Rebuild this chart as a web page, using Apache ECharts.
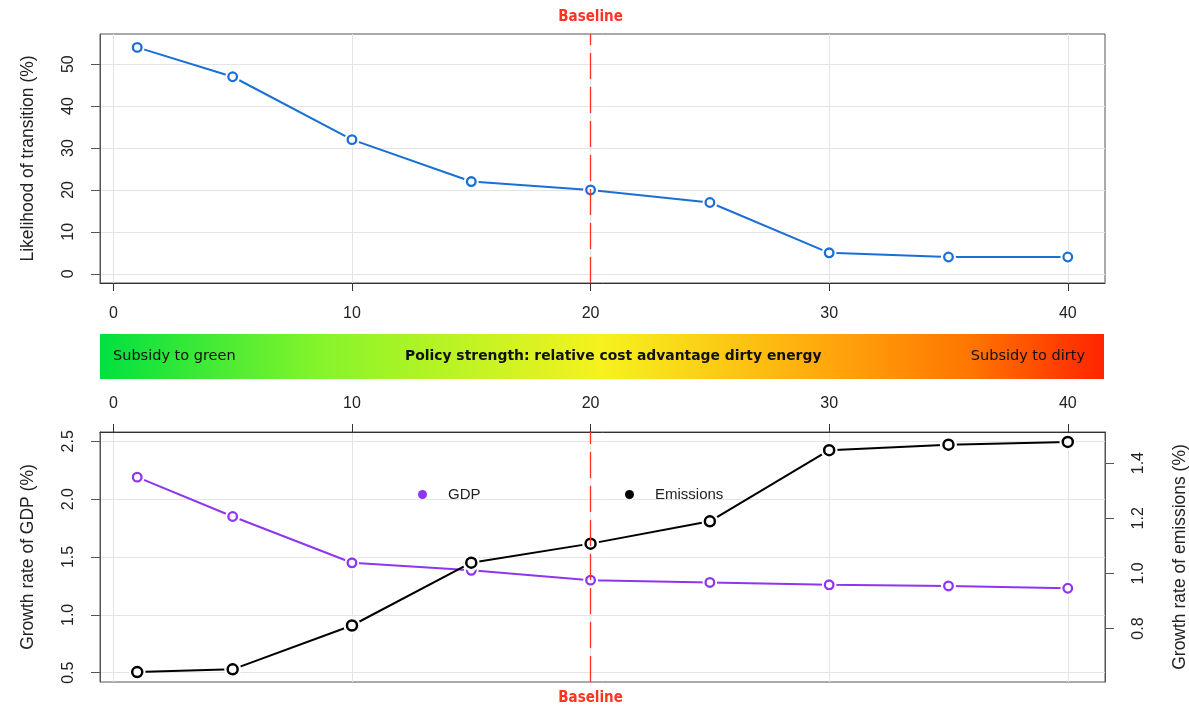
<!DOCTYPE html>
<html>
<head>
<meta charset="utf-8">
<title>Policy strength</title>
<script src="https://cdn.jsdelivr.net/npm/echarts@6.0.0/dist/echarts.min.js"></script>
<style>
  html, body { margin: 0; padding: 0; background: #fff; }
  #chart { width: 1189px; height: 706px; }
</style>
</head>
<body>
<div id="chart"></div>
<script>
// values
const policy = [1, 5, 10, 15, 20, 25, 30, 35, 40];
const likelihood = [54, 47, 32, 22, 20, 17, 5, 4, 4];
const gdpGrowth = [2.19, 1.85, 1.45, 1.385, 1.30, 1.28, 1.26, 1.25, 1.23];
const emissionsGrowth = [0.642, 0.652, 0.811, 1.039, 1.108, 1.189, 1.447, 1.467, 1.477];
const baseline = 20;

const xTicks = [0, 10, 20, 30, 40];
const likelihoodTicks = [0, 10, 20, 30, 40, 50];
const gdpTicks = [0.5, 1.0, 1.5, 2.0, 2.5];
const emissionsTicks = [0.8, 1.0, 1.2, 1.4];

const BLUE = '#1a6fd4', PURPLE = '#8e35ef', BLACK = '#000', RED = '#ff3322';
const FONT = "'Liberation Sans', Arial, sans-serif";

// open circle with a white halo, like R's type = "b"
function ring(color, r, halo, sw) {
  const s = 2 * halo;
  const svg = '<svg xmlns="http://www.w3.org/2000/svg" width="' + s + '" height="' + s + '">' +
    '<circle cx="' + halo + '" cy="' + halo + '" r="' + halo + '" fill="white"/>' +
    '<circle cx="' + halo + '" cy="' + halo + '" r="' + r + '" fill="white" stroke="' + color + '" stroke-width="' + sw + '"/></svg>';
  return 'image://data:image/svg+xml;charset=utf-8,' + encodeURIComponent(svg);
}

function pairs(xs, ys) { return xs.map((x, i) => [x, ys[i]]); }

const tickLabel = { color: '#222', fontSize: 16, fontFamily: FONT };
const gridLine = { show: true, lineStyle: { color: '#e4e4e4', width: 1 } };

function xAxis(grid, pos, margin) {
  return {
    type: 'value', gridIndex: grid, position: pos, min: -0.56, max: 41.56,
    axisLine: { show: true, onZero: false, lineStyle: { color: '#333' } },
    axisTick: { show: true, customValues: xTicks, length: 8, lineStyle: { color: '#333' } },
    axisLabel: Object.assign({ customValues: xTicks, margin: margin }, tickLabel),
    splitLine: gridLine
  };
}

function yAxis(grid, pos, min, max, ticks, digits, name, gap, margin, split) {
  return {
    type: 'value', gridIndex: grid, position: pos, min: min, max: max,
    name: name, nameLocation: 'middle', nameRotate: 90, nameGap: gap,
    nameTextStyle: { color: '#222', fontSize: 17.5, fontFamily: FONT },
    axisLine: { show: true, onZero: false, lineStyle: { color: '#555' } },
    axisTick: { show: true, customValues: ticks, length: 9, lineStyle: { color: '#555' } },
    axisLabel: Object.assign({
      customValues: ticks, rotate: 90, margin: margin,
      formatter: v => v.toFixed(digits)
    }, tickLabel),
    splitLine: split ? gridLine : { show: false }
  };
}

function baseMark(pos, dist) {
  return {
    silent: true, symbol: 'none',
    lineStyle: { color: RED, type: [26, 8], width: 1.3 },
    label: {
      show: true, position: pos, formatter: 'Baseline', distance: dist,
      color: RED, fontWeight: 'bold', fontSize: 15,
      fontFamily: "'Liberation Sans Narrow', 'DejaVu Sans Condensed', sans-serif"
    },
    data: [{ xAxis: baseline }]
  };
}

const chart = echarts.init(document.getElementById('chart'), null, { renderer: 'canvas' });

chart.setOption({
  animation: false,
  backgroundColor: '#fff',
  grid: [
    { left: 100, top: 34, width: 1005, height: 249, show: true, borderColor: '#555', borderWidth: 1, outerBoundsMode: 'none', containLabel: false },
    { left: 100, top: 432, width: 1005, height: 250, show: true, borderColor: '#555', borderWidth: 1, outerBoundsMode: 'none', containLabel: false }
  ],
  xAxis: [xAxis(0, 'bottom', 23), xAxis(1, 'top', 20)],
  yAxis: [
    yAxis(0, 'left', -2.2, 57.2, likelihoodTicks, 0, 'Likelihood of transition (%)', 63, 23, true),
    yAxis(1, 'left', 0.42, 2.58, gdpTicks, 1, 'Growth rate of GDP (%)', 63, 23, true),
    yAxis(1, 'right', 0.606, 1.513, emissionsTicks, 1, 'Growth rate of emissions (%)', 66, 26, false)
  ],
  legend: [
    {
      data: ['GDP'], left: 413, top: 482, icon: 'circle', itemWidth: 9, itemHeight: 9,
      textStyle: { color: '#222', fontSize: 15, fontFamily: FONT, padding: [0, 0, 0, 16] }
    },
    {
      data: ['Emissions'], left: 620, top: 482, icon: 'circle', itemWidth: 9, itemHeight: 9,
      textStyle: { color: '#222', fontSize: 15, fontFamily: FONT, padding: [0, 0, 0, 16] }
    }
  ],
  graphic: [
    {
      type: 'rect', left: 100, top: 334, z: 0,
      shape: { width: 1004, height: 45 },
      style: {
        fill: new echarts.graphic.LinearGradient(0, 0, 1, 0, [
          { offset: 0, color: '#00e040' },
          { offset: 0.22, color: '#86f42a' },
          { offset: 0.5, color: '#f6f21e' },
          { offset: 0.72, color: '#ffa90c' },
          { offset: 0.87, color: '#ff7400' },
          { offset: 1, color: '#ff2400' }
        ])
      }
    },
    {
      type: 'text', left: 113, top: 349, z: 1,
      style: { text: 'Subsidy to green', fill: '#111', fontSize: 14.5, fontFamily: "'DejaVu Sans', sans-serif" }
    },
    {
      type: 'text', left: 405, top: 349, z: 1,
      style: { text: 'Policy strength: relative cost advantage dirty energy', fill: '#111', fontSize: 13.9, fontWeight: 'bold', fontFamily: "'DejaVu Sans', sans-serif" }
    },
    {
      type: 'text', right: 104, top: 349, z: 1,
      style: { text: 'Subsidy to dirty', fill: '#111', fontSize: 14.5, fontFamily: "'DejaVu Sans', sans-serif" }
    }
  ],
  series: [
    {
      name: 'Likelihood', type: 'line', xAxisIndex: 0, yAxisIndex: 0,
      data: pairs(policy, likelihood),
      symbol: ring(BLUE, 4.3, 7.5, 2.3), symbolSize: 15,
      lineStyle: { color: BLUE, width: 2 }, itemStyle: { color: BLUE },
      markLine: baseMark('end', 9)
    },
    {
      name: 'GDP', type: 'line', xAxisIndex: 1, yAxisIndex: 1,
      data: pairs(policy, gdpGrowth),
      symbol: ring(PURPLE, 4.3, 7.5, 2.3), symbolSize: 15,
      lineStyle: { color: PURPLE, width: 2 }, itemStyle: { color: PURPLE },
      markLine: baseMark('start', 9)
    },
    {
      name: 'Emissions', type: 'line', xAxisIndex: 1, yAxisIndex: 2,
      data: pairs(policy, emissionsGrowth),
      symbol: ring(BLACK, 5, 8.5, 2.5), symbolSize: 17,
      lineStyle: { color: BLACK, width: 2 }, itemStyle: { color: BLACK }
    }
  ]
});
</script>
</body>
</html>
